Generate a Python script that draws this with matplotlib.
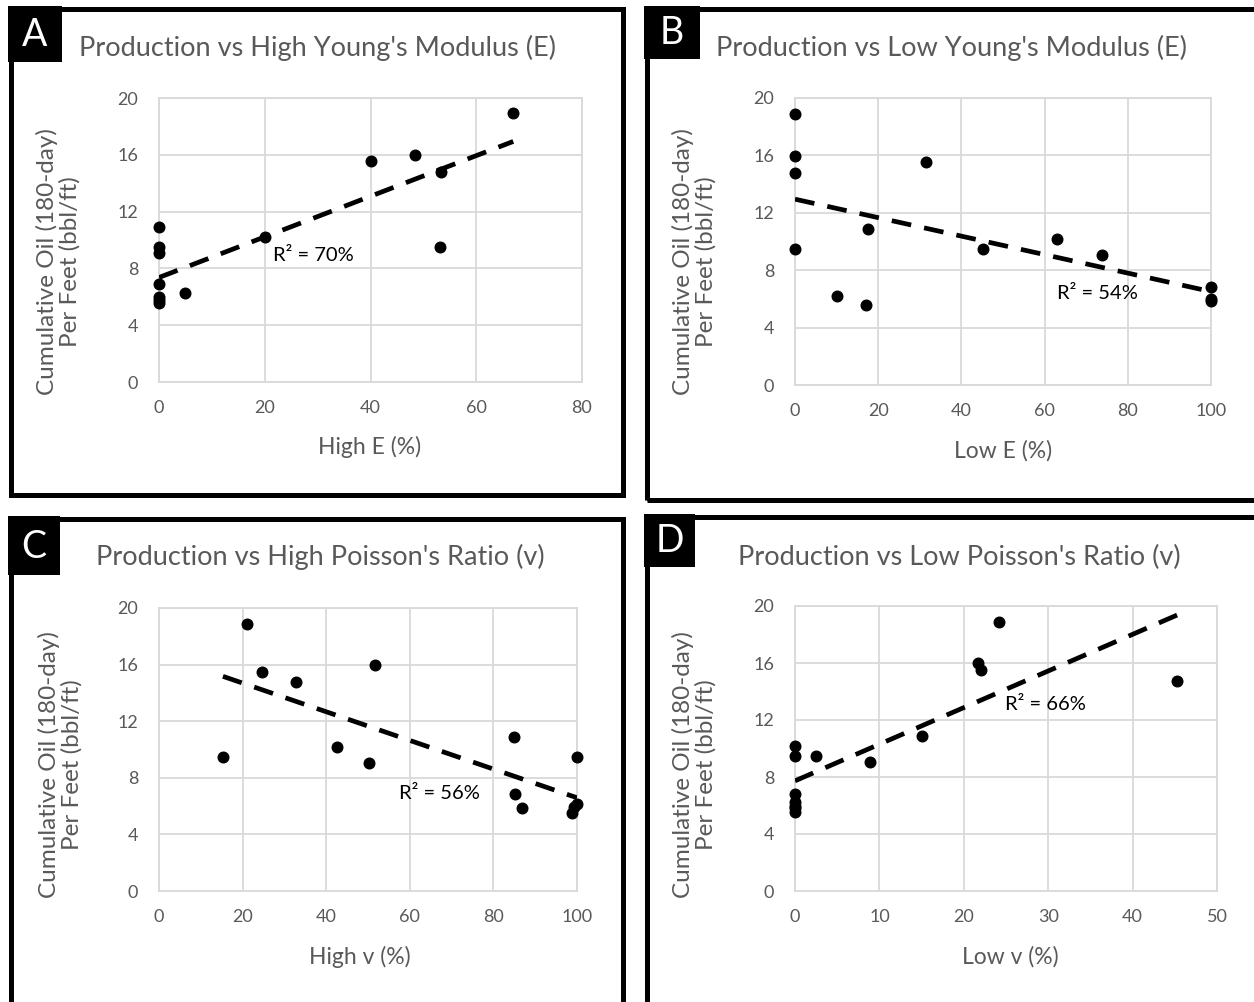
import matplotlib.pyplot as plt
import numpy as np
from matplotlib.patches import Rectangle

plt.rcParams['font.family'] = ['Lato', 'DejaVu Sans']

# values
high_e = [67.0, 48.5, 40.0, 53.3, 0.0, 20.0, 53.1, 0.0, 0.0, 0.0, 5.0, 0.0, 0.0, 0.0]
y_high_e = [18.94, 16.0, 15.58, 14.82, 10.89, 10.24, 9.53, 9.53, 9.06, 6.89, 6.28, 6.0, 5.8, 5.58]

low_e = [0.0, 0.0, 31.6, 0.0, 17.5, 63.1, 0.0, 45.2, 73.9, 100.0, 10.2, 100.0, 100.0, 17.0]
y_low_e = [18.9, 15.98, 15.53, 14.79, 10.88, 10.19, 9.51, 9.49, 9.05, 6.86, 6.23, 6.0, 5.85, 5.56]

high_v = [21.1, 51.7, 24.6, 32.7, 84.9, 42.7, 15.3, 100.0, 50.2, 85.2, 100.0, 99.4, 86.8, 98.8]
y_high_v = [18.87, 15.95, 15.5, 14.77, 10.86, 10.18, 9.49, 9.47, 9.05, 6.86, 6.17, 5.95, 5.87, 5.54]

low_v = [24.15, 21.7, 22.05, 45.3, 15.0, 0.0, 0.0, 2.45, 8.85, 0.0, 0.0, 0.0, 0.0, 0.0]
y_low_v = [18.9, 16.0, 15.5, 14.75, 10.87, 10.16, 9.46, 9.48, 9.04, 6.84, 6.25, 6.0, 5.8, 5.55]

# trend line (intercept, slope) as drawn in the picture
trend_a = (7.36, 0.143)
trend_b = (12.95, -0.0644)
trend_c = (16.72, -0.1013)
trend_d = (7.73, 0.257)

r2_labels = ['R² = 70%', 'R² = 54%', 'R² = 56%', 'R² = 66%']
r2_pos = [(21.6, 8.9), (63.1, 6.4), (57.4, 6.9), (24.9, 13.1)]

titles = ["Production vs High Young's Modulus (E)", "Production vs Low Young's Modulus (E)",
          "Production vs High Poisson's Ratio (v)", "Production vs Low Poisson's Ratio (v)"]
xlabels = ['High E (%)', 'Low E (%)', 'High v (%)', 'Low v (%)']
letters = ['A', 'B', 'C', 'D']
xmax = [80, 100, 100, 50]
xstep = [20, 20, 20, 10]

W, H = 1254, 1002
gray = '#595959'
grid = '#d9d9d9'


def fx(px):
    return px / W


def fy(py):
    return 1 - py / H


fig = plt.figure(figsize=(12.54, 10.02), dpi=100)

# pixel boxes of the plot areas: left, top, right, bottom
areas = [(159, 98, 582, 382), (795, 98, 1211, 385), (159, 608, 577, 891), (795, 606, 1217, 891)]
title_pos = [(317, 48), (951, 48), (320, 557), (959, 557)]
xlab_pos = [(370, 447), (1003, 451), (360, 957), (1010, 957)]
ylab_pos = [(58, 262), (694, 262), (60, 765), (694, 765)]
frames = [(10.5, 8.5, 622.5, 494.5), (646.5, 8.5, 1262, 499.5),
          (10.5, 518.5, 622.5, 1012), (646.5, 516.5, 1262, 1012)]
letter_boxes = [(8, 6, 62, 62), (644, 6, 700, 59), (8, 516, 60, 575), (644, 514, 695, 567)]

xs = [high_e, low_e, high_v, low_v]
ys = [y_high_e, y_low_e, y_high_v, y_low_v]
trends = [trend_a, trend_b, trend_c, trend_d]

for i in range(4):
    l, t, r, b = areas[i]
    ax = fig.add_axes([fx(l), fy(b), fx(r - l), (b - t) / H])
    ax.set_xlim(0, xmax[i])
    ax.set_ylim(0, 20)
    ax.set_xticks(np.arange(0, xmax[i] + 1, xstep[i]))
    ax.set_yticks(np.arange(0, 21, 4))
    ax.grid(True, color=grid, lw=1.3)
    ax.set_axisbelow(True)
    for s in ax.spines.values():
        s.set_color(grid)
        s.set_linewidth(1.3)
    ax.tick_params(length=0, labelsize=13, labelcolor=gray, pad=13)
    ax.tick_params(axis='y', pad=15)

    x = np.array(xs[i])
    ax.scatter(x, ys[i], s=58, color='black', zorder=3, clip_on=False)
    a, k = trends[i]
    xx = np.array([x.min(), x.max()])
    ax.plot(xx, a + k * xx, color='black', lw=3.4, ls=(0, (4.2, 2.8)), zorder=4)
    ax.text(r2_pos[i][0], r2_pos[i][1], r2_labels[i], fontsize=14.5, color='black', va='center', ha='left')

    fig.text(fx(title_pos[i][0]), fy(title_pos[i][1]), titles[i], fontsize=19.5, color=gray, ha='center', va='center')
    fig.text(fx(xlab_pos[i][0]), fy(xlab_pos[i][1]), xlabels[i], fontsize=16.5, color=gray, ha='center', va='center')
    fig.text(fx(ylab_pos[i][0]), fy(ylab_pos[i][1]), 'Cumulative Oil (180-day)\nPer Feet (bbl/ft)',
             fontsize=17.5, color=gray, ha='center', va='center', rotation=90, multialignment='center',
             linespacing=1.05)

    fl, ft, fr, fb = frames[i]
    fig.add_artist(Rectangle((fx(fl), fy(fb)), fx(fr - fl), (fb - ft) / H, transform=fig.transFigure,
                             fill=False, edgecolor='black', lw=3.6, clip_on=False))
    bl, bt, br, bb = letter_boxes[i]
    fig.add_artist(Rectangle((fx(bl), fy(bb)), fx(br - bl), (bb - bt) / H, transform=fig.transFigure,
                             facecolor='black', edgecolor='none'))
    fig.text(fx((bl + br) / 2), fy((bt + bb) / 2 + 1), letters[i], fontsize=27, color='white',
             ha='center', va='center')

fig.savefig('out.png', dpi=100)
